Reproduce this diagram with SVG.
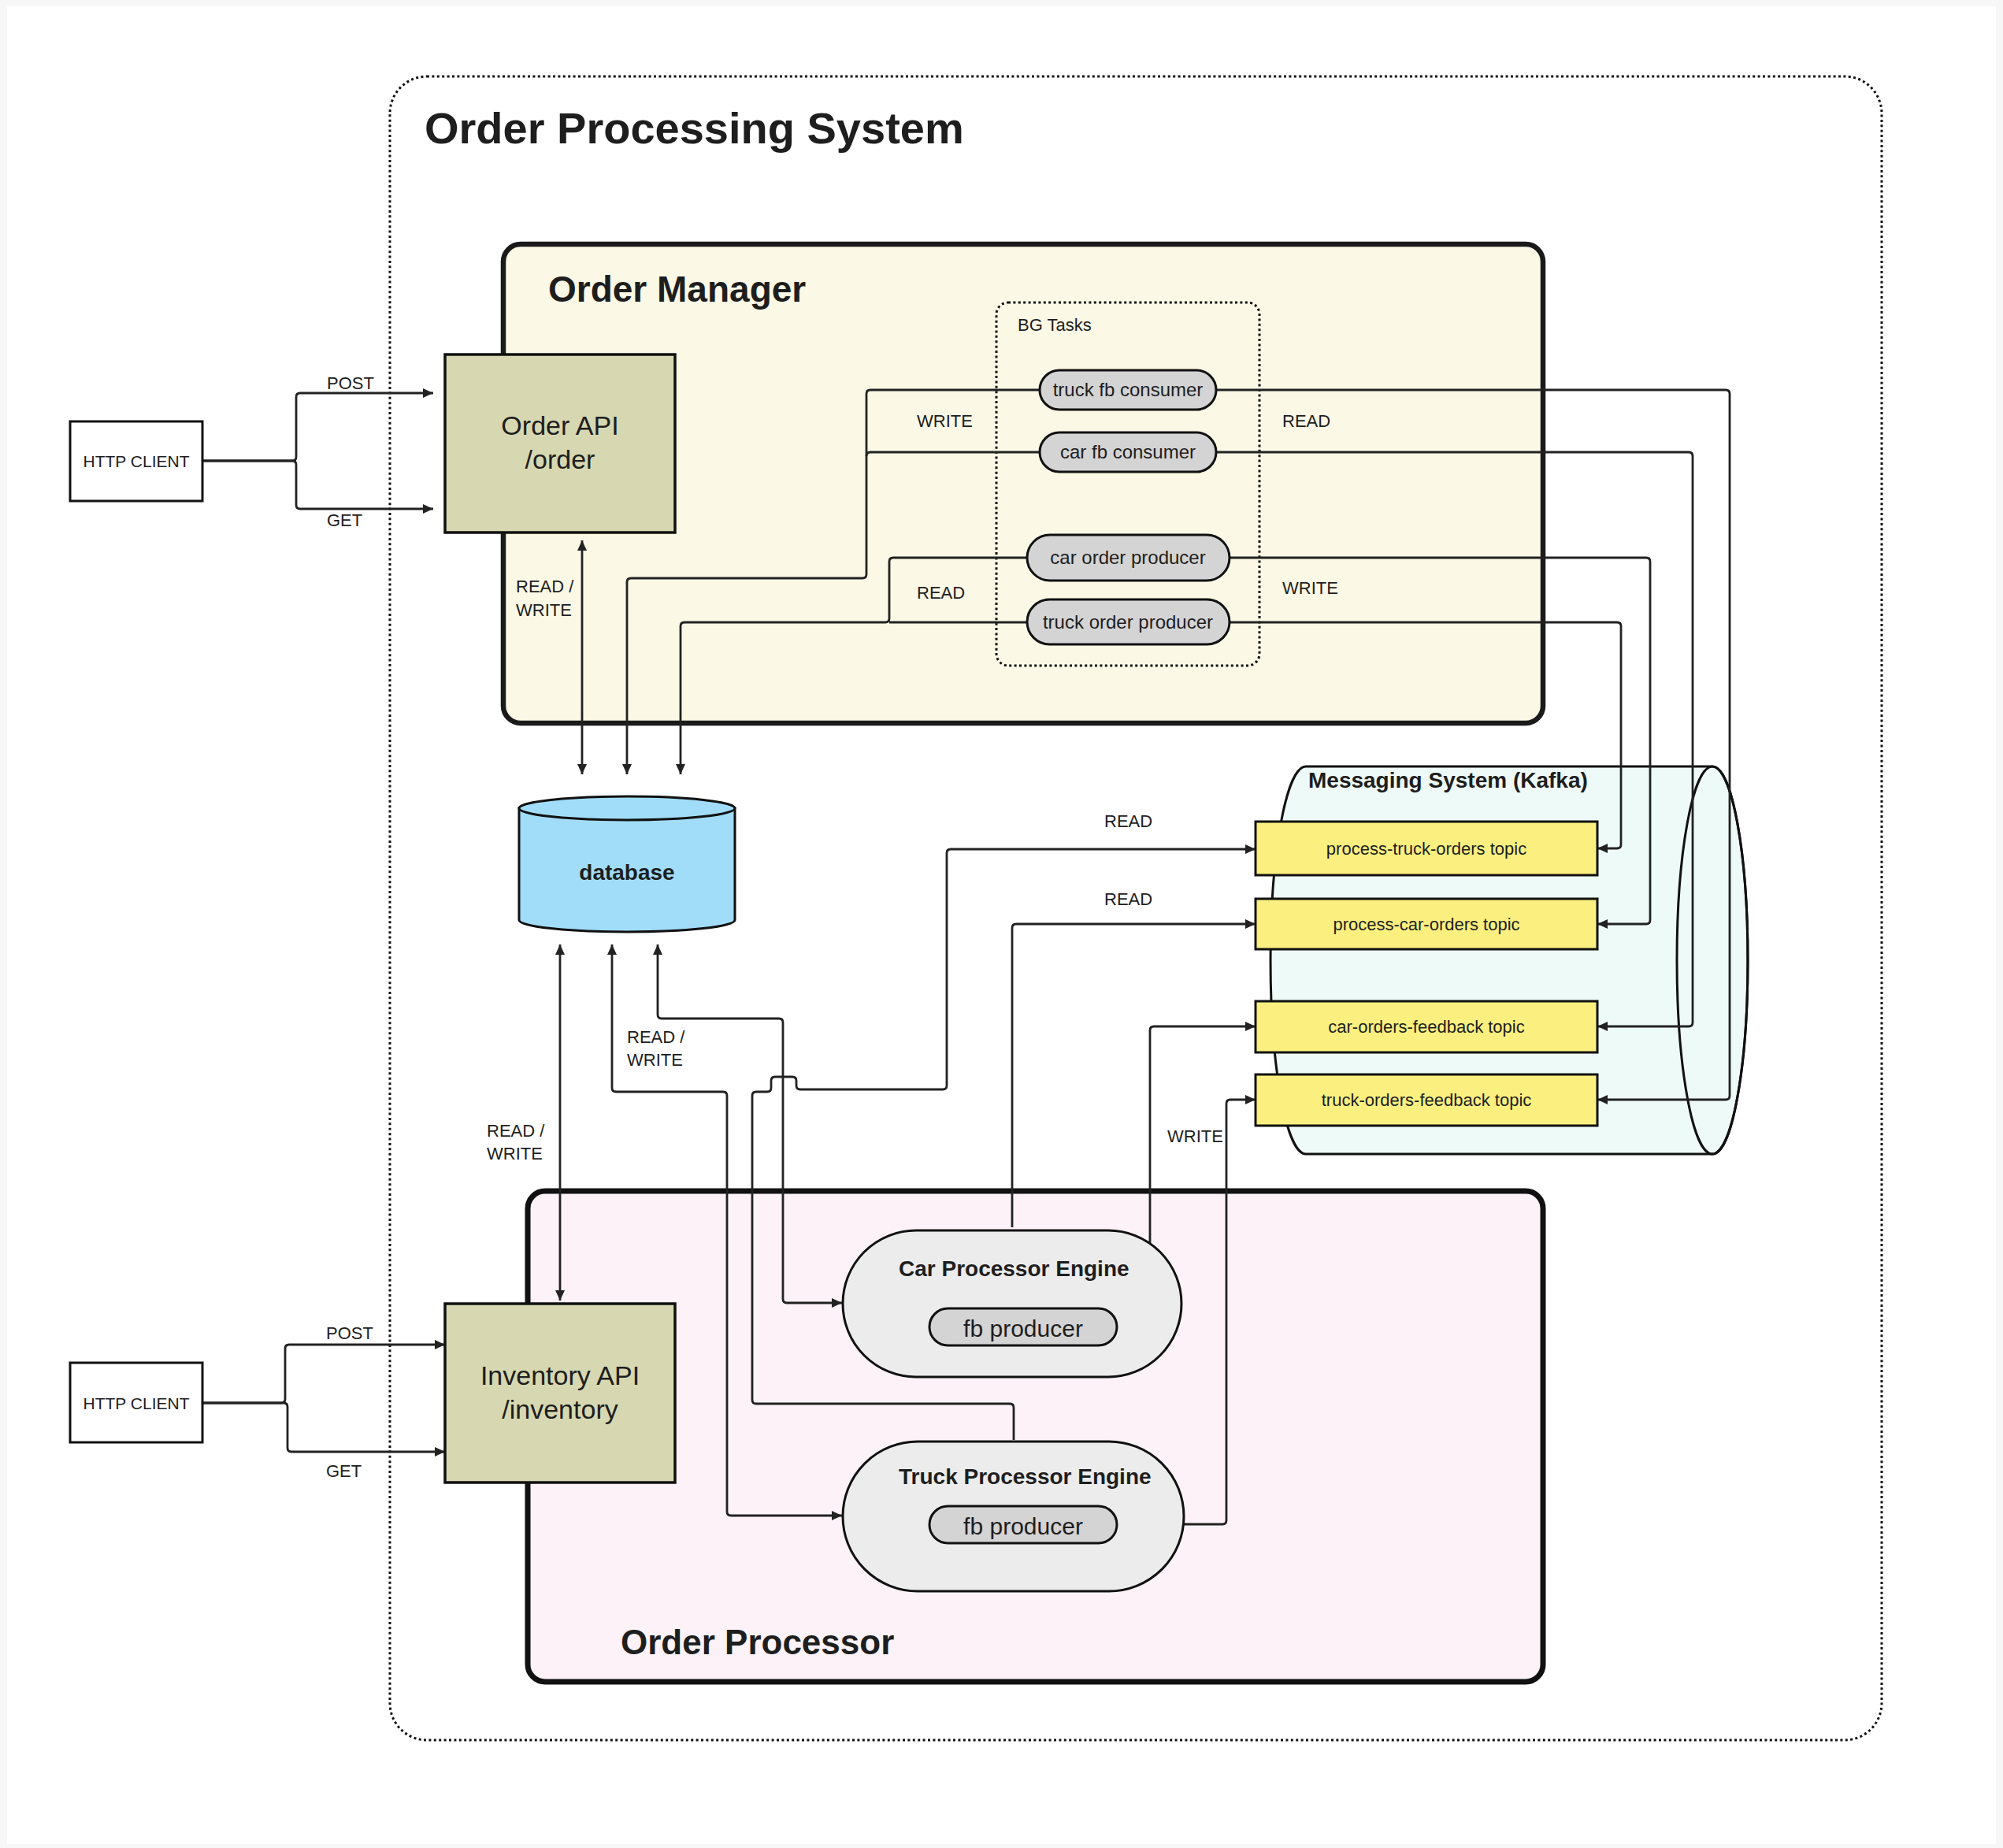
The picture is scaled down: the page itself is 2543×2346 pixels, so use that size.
<svg xmlns="http://www.w3.org/2000/svg" width="2543" height="2346" viewBox="0 0 2543 2346">
<style>
text{font-family:"Liberation Sans",Arial,sans-serif;fill:#1e1e1e}
.lbl{font-size:22px}
.b{font-weight:bold}
.c{text-anchor:middle}
.conn{fill:none;stroke:#222;stroke-width:2.8;stroke-linejoin:round}
.dot{fill:none;stroke:#111;stroke-width:3;stroke-dasharray:3 3.4}
.pill{fill:#d4d4d4;stroke:#111;stroke-width:3}
.topic{fill:#fbf07f;stroke:#111;stroke-width:3}
.api{fill:#d7d8b1;stroke:#111;stroke-width:3.5}
.eng{fill:#ececec;stroke:#111;stroke-width:3}
</style>
<defs>
<marker id="arr" viewBox="0 0 13 12" refX="13" refY="6" markerWidth="13" markerHeight="12" markerUnits="userSpaceOnUse" orient="auto-start-reverse">
<path d="M0,0 L13,6 L0,12 z" fill="#222"/>
</marker>
</defs>
<rect x="0" y="0" width="2543" height="2346" fill="#f7f7f7"/>
<rect x="9" y="8" width="2525" height="2333" fill="#ffffff"/>

<g id="order-processing-system">
<rect class="dot" x="495" y="97" width="1894" height="2112" rx="47"/>
<text class="b" x="539" y="182" font-size="56">Order Processing System</text>
</g>

<g id="order-manager">
<rect x="639" y="310" width="1320" height="608" rx="22" fill="#fbf8e6" stroke="#1a1a1a" stroke-width="6.5"/>
<text class="b" x="696" y="383" font-size="46">Order Manager</text>
</g>

<g id="order-processor">
<rect x="670" y="1512" width="1289" height="623" rx="22" fill="#fcf2f7" stroke="#111" stroke-width="7"/>
<text class="b" x="788" y="2100" font-size="44">Order Processor</text>
</g>

<g id="bg-tasks">
<rect class="dot" x="1265" y="384" width="334" height="461" rx="15"/>
<text x="1292" y="420" font-size="22">BG Tasks</text>
</g>

<g id="database">
<path d="M659,1026 V1168 A137,15 0 0,0 933,1168 V1026 Z" fill="#a1ddf9" stroke="#111" stroke-width="3"/>
<ellipse cx="796" cy="1026" rx="137" ry="15" fill="#a1ddf9" stroke="#111" stroke-width="3"/>
<text class="b c" x="796" y="1117" font-size="28">database</text>
</g>

<g id="messaging-system">
<path d="M1658,973 H2174 A45,246 0 0,1 2174,1465 H1658 A45,246 0 0,1 1658,973 Z" fill="#eefaf7" stroke="#111" stroke-width="3"/>
<ellipse cx="2174" cy="1219" rx="45" ry="246" fill="none" stroke="#111" stroke-width="3"/>
<text class="b" x="1661" y="1000" font-size="28">Messaging System (Kafka)</text>
</g>

<g id="connectors">
<path class="conn" marker-end="url(#arr)" d="M257,585 H371 Q376,585 376,580 V504 Q376,499 381,499 H550"/>
<path class="conn" marker-end="url(#arr)" d="M257,585 H371 Q376,585 376,590 V641 Q376,646 381,646 H550"/>
<path class="conn" marker-end="url(#arr)" d="M257,1781 H357 Q362,1781 362,1776 V1712 Q362,1707 367,1707 H565"/>
<path class="conn" marker-end="url(#arr)" d="M257,1781 H360 Q365,1781 365,1786 V1838 Q365,1843 370,1843 H565"/>
<path class="conn" marker-start="url(#arr)" marker-end="url(#arr)" d="M739,686 V983"/>
<path class="conn" marker-end="url(#arr)" d="M1320,495 H1105 Q1100,495 1100,500 V729 Q1100,734 1095,734 H801 Q796,734 796,739 V983"/>
<path class="conn" d="M1320,574 H1105 Q1100,574 1100,579"/>
<path class="conn" marker-end="url(#arr)" d="M1304,708 H1134 Q1129,708 1129,713 V785 Q1129,790 1124,790 H869 Q864,790 864,795 V983"/>
<path class="conn" d="M1304,790 H1129"/>
<path class="conn" marker-end="url(#arr)" d="M1544,495 H2191 Q2196,495 2196,500 V1391 Q2196,1396 2191,1396 H2028"/>
<path class="conn" marker-end="url(#arr)" d="M1544,574 H2144 Q2149,574 2149,579 V1298 Q2149,1303 2144,1303 H2028"/>
<path class="conn" marker-end="url(#arr)" d="M1561,708 H2090 Q2095,708 2095,713 V1168 Q2095,1173 2090,1173 H2028"/>
<path class="conn" marker-end="url(#arr)" d="M1561,790 H2053 Q2058,790 2058,795 V1072 Q2058,1077 2053,1077 H2028"/>
<path class="conn" marker-start="url(#arr)" marker-end="url(#arr)" d="M711,1199 V1651"/>
<path class="conn" marker-start="url(#arr)" marker-end="url(#arr)" d="M777,1199 V1381 Q777,1386 782,1386 H918 Q923,1386 923,1391 V1919 Q923,1924 928,1924 H1069"/>
<path class="conn" marker-start="url(#arr)" marker-end="url(#arr)" d="M835,1199 V1288 Q835,1293 840,1293 H989 Q994,1293 994,1298 V1649 Q994,1654 999,1654 H1069"/>
<path class="conn" marker-end="url(#arr)" d="M1287,1828 V1787 Q1287,1782 1282,1782 H960 Q955,1782 955,1777 V1391 Q955,1386 960,1386 H974 Q979,1386 979,1381 V1372 Q979,1367 984,1367 H1006 Q1011,1367 1011,1372 V1378 Q1011,1383 1016,1383 H1197 Q1202,1383 1202,1378 V1083 Q1202,1078 1207,1078 H1594"/>
<path class="conn" marker-end="url(#arr)" d="M1285,1558 V1178 Q1285,1173 1290,1173 H1594"/>
<path class="conn" marker-end="url(#arr)" d="M1418,1684 H1455 Q1460,1684 1460,1679 V1308 Q1460,1303 1465,1303 H1594"/>
<path class="conn" marker-end="url(#arr)" d="M1418,1935 H1552 Q1557,1935 1557,1930 V1401 Q1557,1396 1562,1396 H1594"/>
<text class="lbl" x="415" y="494" font-size="21">POST</text>
<text class="lbl" x="415" y="668" font-size="21">GET</text>
<text class="lbl" x="414" y="1700" font-size="21">POST</text>
<text class="lbl" x="414" y="1875" font-size="21">GET</text>
<text class="lbl" x="655" y="752">READ /</text>
<text class="lbl" x="655" y="782">WRITE</text>
<text class="lbl" x="618" y="1443">READ /</text>
<text class="lbl" x="618" y="1472">WRITE</text>
<text class="lbl" x="796" y="1324">READ /</text>
<text class="lbl" x="796" y="1353">WRITE</text>
<text class="lbl" x="1164" y="542">WRITE</text>
<text class="lbl" x="1164" y="760">READ</text>
<text class="lbl" x="1628" y="542">READ</text>
<text class="lbl" x="1628" y="754">WRITE</text>
<text class="lbl" x="1402" y="1050">READ</text>
<text class="lbl" x="1402" y="1149">READ</text>
<text class="lbl" x="1482" y="1450">WRITE</text>
</g>

<g id="http-client-1">
<rect x="89" y="535" width="168" height="101" fill="#fff" stroke="#111" stroke-width="3"/>
<text class="c" x="173" y="593" font-size="21">HTTP CLIENT</text>
</g>
<g id="http-client-2">
<rect x="89" y="1730" width="168" height="101" fill="#fff" stroke="#111" stroke-width="3"/>
<text class="c" x="173" y="1789" font-size="21">HTTP CLIENT</text>
</g>

<g id="order-api">
<rect class="api" x="565" y="450" width="292" height="226"/>
<text class="c" x="711" y="552" font-size="34">Order API</text>
<text class="c" x="711" y="595" font-size="34">/order</text>
</g>
<g id="inventory-api">
<rect class="api" x="565" y="1655" width="292" height="227"/>
<text class="c" x="711" y="1758" font-size="34">Inventory API</text>
<text class="c" x="711" y="1801" font-size="34">/inventory</text>
</g>

<g id="truck-fb-consumer">
<rect class="pill" x="1320" y="470" width="224" height="50" rx="25"/>
<text class="c" x="1432" y="503" font-size="24">truck fb consumer</text>
</g>
<g id="car-fb-consumer">
<rect class="pill" x="1320" y="549" width="224" height="50" rx="25"/>
<text class="c" x="1432" y="582" font-size="24">car fb consumer</text>
</g>
<g id="car-order-producer">
<rect class="pill" x="1304" y="679" width="257" height="58" rx="29"/>
<text class="c" x="1432" y="716" font-size="24">car order producer</text>
</g>
<g id="truck-order-producer">
<rect class="pill" x="1304" y="761" width="257" height="57" rx="28.5"/>
<text class="c" x="1432" y="798" font-size="24">truck order producer</text>
</g>

<g id="topic-process-truck-orders">
<rect class="topic" x="1594" y="1043" width="434" height="68"/>
<text class="c" x="1811" y="1085" font-size="22">process-truck-orders topic</text>
</g>
<g id="topic-process-car-orders">
<rect class="topic" x="1594" y="1141" width="434" height="64"/>
<text class="c" x="1811" y="1181" font-size="22">process-car-orders topic</text>
</g>
<g id="topic-car-orders-feedback">
<rect class="topic" x="1594" y="1271" width="434" height="65"/>
<text class="c" x="1811" y="1311" font-size="22">car-orders-feedback topic</text>
</g>
<g id="topic-truck-orders-feedback">
<rect class="topic" x="1594" y="1364" width="434" height="65"/>
<text class="c" x="1811" y="1404" font-size="22">truck-orders-feedback topic</text>
</g>

<g id="car-processor-engine">
<rect class="eng" x="1070" y="1562" width="430" height="186" rx="93"/>
<text class="b" x="1141" y="1620" font-size="28">Car Processor Engine</text>
<rect class="pill" x="1180" y="1661" width="238" height="47" rx="23.5"/>
<text class="c" x="1299" y="1697" font-size="30">fb producer</text>
</g>
<g id="truck-processor-engine">
<rect class="eng" x="1070" y="1830" width="433" height="190" rx="95"/>
<text class="b" x="1141" y="1884" font-size="28">Truck Processor Engine</text>
<rect class="pill" x="1180" y="1912" width="238" height="47" rx="23.5"/>
<text class="c" x="1299" y="1948" font-size="30">fb producer</text>
</g>
</svg>
